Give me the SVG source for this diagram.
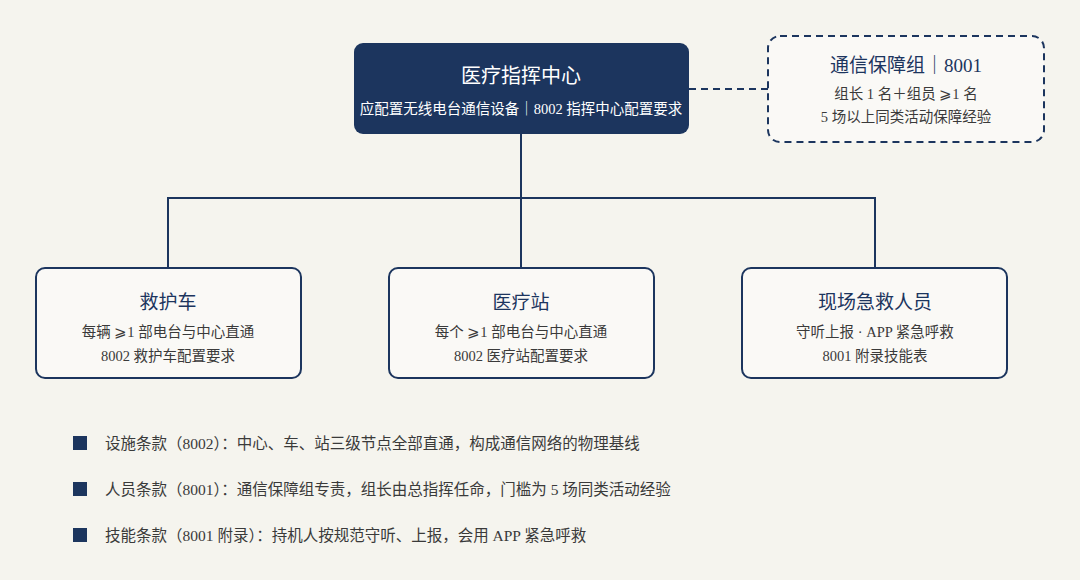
<svg xmlns="http://www.w3.org/2000/svg" width="1080" height="580" viewBox="0 0 1080 580">
<style>
text{font-family:"Liberation Serif","Noto Sans CJK SC",serif;text-anchor:middle}
.box{fill:#faf9f6;stroke:#1c355e;stroke-width:2}
.t{font-size:19px;fill:#1c355e}
.s{font-size:14.5px;fill:#3a3a3a}
.b{font-size:15.5px;fill:#3a3a3a;text-anchor:start}
.ln{stroke:#1c355e;stroke-width:2;fill:none}
</style>
<rect width="1080" height="580" fill="#f5f4ee"/>
<g id="connectors">
<path class="ln" d="M521 134V198M168 268V198H875V268M521 198V268"/>
<path class="ln" d="M689 89H768" stroke-dasharray="7 5"/>
</g>
<g id="center">
<rect x="354" y="43" width="335" height="91" rx="9" fill="#1c355e"/>
<text x="521" y="83" font-size="20" fill="#fff">医疗指挥中心</text>
<text x="521" y="114" font-size="14.5" fill="#fff">应配置无线电台通信设备｜8002 指挥中心配置要求</text>
</g>
<g id="team">
<rect x="768" y="36" width="276" height="106" rx="12" fill="#faf9f6" stroke="#1c355e" stroke-width="2" stroke-dasharray="7 5"/>
<text class="t" x="906" y="72" font-size="17">通信保障组｜8001</text>
<text class="s" x="906" y="99">组长 1 名＋组员 ⩾1 名</text>
<text class="s" x="906" y="122">5 场以上同类活动保障经验</text>
</g>
<g id="ambulance">
<rect class="box" x="36" y="268" width="265" height="110" rx="9"/>
<text class="t" x="168" y="309">救护车</text>
<text class="s" x="168" y="337">每辆 ⩾1 部电台与中心直通</text>
<text class="s" x="168" y="361">8002 救护车配置要求</text>
</g>
<g id="station">
<rect class="box" x="389" y="268" width="265" height="110" rx="9"/>
<text class="t" x="521" y="309">医疗站</text>
<text class="s" x="521" y="337">每个 ⩾1 部电台与中心直通</text>
<text class="s" x="521" y="361">8002 医疗站配置要求</text>
</g>
<g id="staff">
<rect class="box" x="742" y="268" width="265" height="110" rx="9"/>
<text class="t" x="875" y="309">现场急救人员</text>
<text class="s" x="875" y="337">守听上报 · APP 紧急呼救</text>
<text class="s" x="875" y="361">8001 附录技能表</text>
</g>
<g id="notes">
<rect x="73" y="436" width="14" height="14" fill="#1c355e"/>
<rect x="73" y="482" width="14" height="14" fill="#1c355e"/>
<rect x="73" y="528" width="14" height="14" fill="#1c355e"/>
<text class="b" x="105" y="449">设施条款（8002）：中心、车、站三级节点全部直通，构成通信网络的物理基线</text>
<text class="b" x="105" y="495">人员条款（8001）：通信保障组专责，组长由总指挥任命，门槛为 5 场同类活动经验</text>
<text class="b" x="105" y="541">技能条款（8001 附录）：持机人按规范守听、上报，会用 APP 紧急呼救</text>
</g>
</svg>
